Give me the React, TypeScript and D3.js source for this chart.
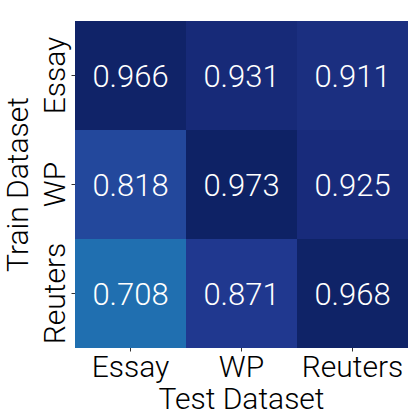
import React from "react";
import * as d3 from "d3";

const trainSets = ["Essay", "WP", "Reuters"];
const testSets = ["Essay", "WP", "Reuters"];
const values = [
  [0.966, 0.931, 0.911],
  [0.818, 0.973, 0.925],
  [0.708, 0.871, 0.968],
];
const xTitle = "Test Dataset";
const yTitle = "Train Dataset";

export default function App() {
  const W = 415, H = 415;
  const left = 75, right = 408, top = 21, bottom = 348;
  const x = d3.scaleBand().domain(testSets).range([left, right]);
  const y = d3.scaleBand().domain(trainSets).range([top, bottom]);
  const color = d3.scaleSequential(d3.interpolateYlGnBu).domain([0, 1]);
  const font = "Roboto, 'Open Sans', sans-serif";
  const fw = 300;
  return (
    <svg width={W} height={H} style={{ position: "absolute", left: 0, top: 0, background: "#fff" }}>
      {trainSets.map((r, i) =>
        testSets.map((c, j) => (
          <g key={`${i}-${j}`}>
            <rect x={x(c)} y={y(r)} width={x.bandwidth()} height={y.bandwidth()} fill={color(values[i][j])} />
            <text
              x={x(c)! + x.bandwidth() / 2}
              y={y(r)! + y.bandwidth() / 2}
              dy="0.36em"
              textAnchor="middle"
              fill="#fff"
              fontFamily={font}
              fontWeight={fw}
              fontSize={31}
            >
              {values[i][j].toFixed(3)}
            </text>
          </g>
        ))
      )}
      {testSets.map((c) => (
        <g key={c}>
          <line x1={x(c)! + x.bandwidth() / 2} x2={x(c)! + x.bandwidth() / 2} y1={bottom} y2={bottom + 3.5} stroke="#000" strokeWidth={0.8} />
          <text x={x(c)! + x.bandwidth() / 2} y={377} textAnchor="middle" fontFamily={font} fontWeight={fw} fontSize={30} fill="#000">
            {c}
          </text>
        </g>
      ))}
      {trainSets.map((r) => (
        <g key={r}>
          <line x1={left - 3.5} x2={left} y1={y(r)! + y.bandwidth() / 2} y2={y(r)! + y.bandwidth() / 2} stroke="#000" strokeWidth={0.8} />
          <text
            transform={`translate(65,${y(r)! + y.bandwidth() / 2}) rotate(-90)`}
            textAnchor="middle"
            fontFamily={font}
            fontWeight={fw}
            fontSize={30}
            fill="#000"
          >
            {r}
          </text>
        </g>
      ))}
      <text x={(left + right) / 2} y={409} textAnchor="middle" fontFamily={font} fontWeight={fw} fontSize={30} fill="#000">
        {xTitle}
      </text>
      <text
        transform={`translate(28,${(top + bottom) / 2}) rotate(-90)`}
        textAnchor="middle"
        fontFamily={font}
        fontWeight={fw}
        fontSize={30}
        fill="#000"
      >
        {yTitle}
      </text>
    </svg>
  );
}
